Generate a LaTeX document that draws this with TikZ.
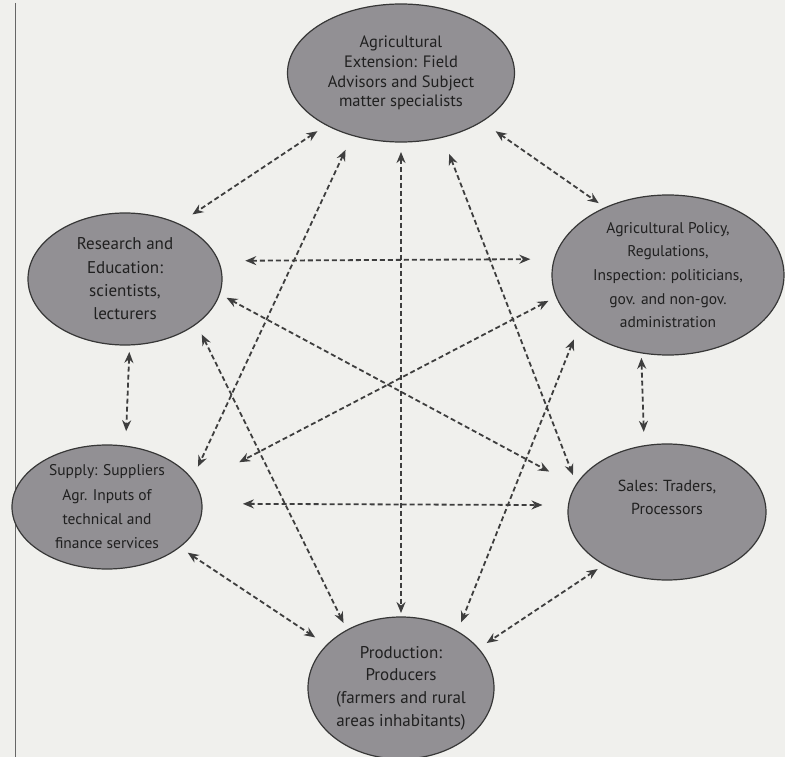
\documentclass[tikz,border=0pt]{standalone}
\usepackage{fontspec}
\setmainfont{PT Sans}
\usetikzlibrary{shapes.geometric,arrows.meta}
\definecolor{paper}{RGB}{240,240,237}
\definecolor{blob}{RGB}{146,144,148}
\definecolor{rim}{RGB}{55,55,55}
\definecolor{ink}{RGB}{32,32,32}
\definecolor{linkgray}{RGB}{62,62,62}
\begin{document}
\begin{tikzpicture}[x=1pt,y=-1pt]
\tikzset{actor/.style={ellipse,draw=rim,fill=blob,line width=1.2pt,inner sep=0pt,outer sep=0pt,align=center,text=ink},
link/.style={draw=linkgray,line width=1.8pt,dash pattern=on 5pt off 3pt,{Stealth[length=11pt,width=9pt]}-{Stealth[length=11pt,width=9pt]}}}
\fill[paper] (0,0) rectangle (785,757);
\useasboundingbox (0,0) rectangle (785,757);
\draw[black!60,line width=1pt] (15,3) -- (15,757);

\node[actor,minimum width=227pt,minimum height=138pt,font=\fontsize{16.5}{19.7}\selectfont] (ext) at (401,73) {Agricultural\\Extension: Field\\Advisors and Subject\\matter specialists};
\node[actor,minimum width=194pt,minimum height=132pt,font=\fontsize{17}{23.3}\selectfont] (res) at (125,279) {Research and\\Education:\\scientists,\\lecturers};
\node[actor,minimum width=232pt,minimum height=160pt,font=\fontsize{15.5}{23.7}\selectfont] (pol) at (668,275) {Agricultural Policy,\\Regulations,\\Inspection: politicians,\\gov. and non-gov.\\administration};
\node[actor,minimum width=190pt,minimum height=124pt,font=\fontsize{15.5}{24.3}\selectfont] (sup) at (107,507) {Supply: Suppliers\\Agr. Inputs of\\technical and\\finance services};
\node[actor,minimum width=198pt,minimum height=136pt,font=\fontsize{16}{23}\selectfont] (sal) at (667,512) {Sales: Traders,\\Processors\\[6pt]};
\node[actor,minimum width=186pt,minimum height=142pt,font=\fontsize{17}{22.7}\selectfont] (pro) at (401,688) {Production:\\Producers\\(farmers and rural\\areas inhabitants)};

\draw[link,shorten <=11pt,shorten >=17pt] (ext.215) -- (res.46);
\draw[link,shorten <=17pt,shorten >=8pt] (ext.329) -- (pol.133);
\draw[link,shorten <=16pt,shorten >=14pt] (ext.232) -- (sup.18);
\draw[link,shorten <=10pt,shorten >=4pt] (ext.270) -- (pro.90);
\draw[link,shorten <=18pt,shorten >=10pt] (ext.303) -- (sal.163);
\draw[link,shorten <=27pt,shorten >=24pt] (res.11.5) -- (pol.172.5);
\draw[link,shorten <=8pt,shorten >=30pt] (res.351) -- (sal.164);
\draw[link,shorten <=12pt,shorten >=8pt] (res.328) -- (pro.133);
\draw[link,shorten <=7pt,shorten >=15pt] (res.274) -- (sup.73);
\draw[link,shorten <=9pt,shorten >=49pt] (pol.191) -- (sup.14);
\draw[link,shorten <=14pt,shorten >=10pt] (pol.210) -- (pro.45);
\draw[link,shorten <=5pt,shorten >=14pt] (pol.251) -- (sal.109);
\draw[link,shorten <=41pt,shorten >=26pt] (sup.2) -- (sal.176);
\draw[link,shorten <=10pt,shorten >=14pt] (sup.331) -- (pro.150);
\draw[link,shorten <=8pt,shorten >=10pt] (sal.220) -- (pro.27);
\end{tikzpicture}
\end{document}
